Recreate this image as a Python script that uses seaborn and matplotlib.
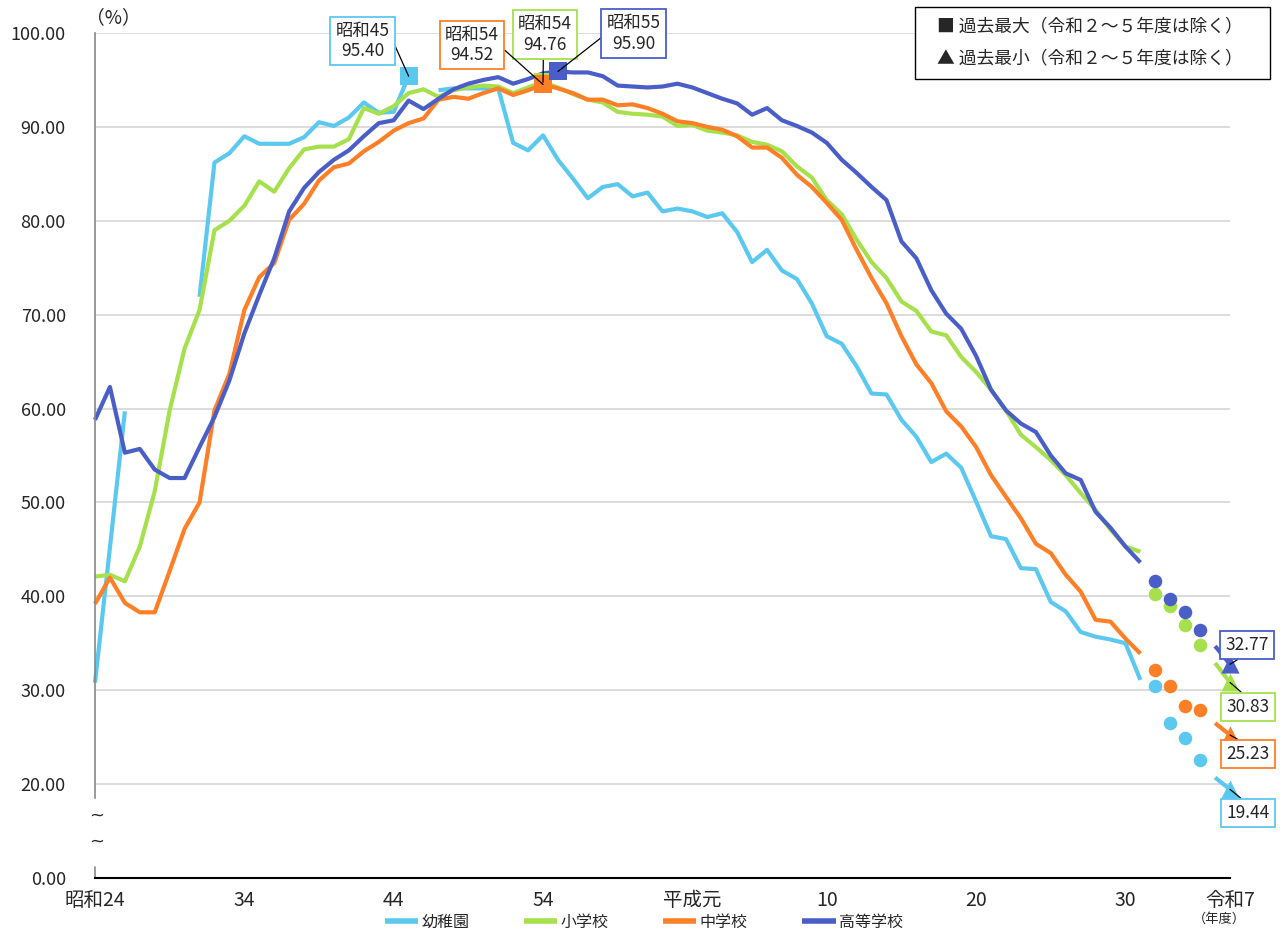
import matplotlib
matplotlib.use("Agg")
import matplotlib.pyplot as plt
import matplotlib.patches as mpatches
import numpy as np
import pandas as pd
import seaborn as sns

# ---------------- data ----------------
years = list(range(1949, 2020))
kinder = [30.8, 45.2, 59.7, None, None, None, None, 71.9, 86.2, 87.2, 89.0, 88.2, 88.2, 88.2, 88.9,
          90.5, 90.1, 91.0, 92.6, 91.5, 91.6, 95.40, None, 93.9, 94.1, 94.1, 94.1, 94.1, 88.3, 87.5,
          89.1, 86.5, 84.5, 82.4, 83.6, 83.9, 82.6, 83.0, 81.0, 81.3, 81.0, 80.4, 80.8, 78.8, 75.6,
          76.9, 74.7, 73.8, 71.2, 67.7, 66.9, 64.5, 61.6, 61.5, 58.8, 57.0, 54.3, 55.2, 53.7, 50.1,
          46.4, 46.1, 43.0, 42.9, 39.4, 38.4, 36.2, 35.7, 35.4, 35.0, 31.1]
elem = [42.1, 42.3, 41.6, 45.3, 51.2, 59.8, 66.4, 70.5, 79.0, 80.0, 81.6, 84.2, 83.1, 85.6, 87.6,
        87.9, 87.9, 88.7, 92.0, 91.4, 92.2, 93.6, 94.0, 93.2, 93.9, 94.2, 94.4, 94.3, 93.6, 94.2,
        94.76, 94.2, 93.5, 92.9, 92.6, 91.6, 91.4, 91.3, 91.1, 90.1, 90.2, 89.6, 89.4, 89.1, 88.4,
        88.1, 87.4, 85.8, 84.6, 82.2, 80.7, 78.0, 75.6, 73.9, 71.4, 70.4, 68.2, 67.8, 65.5, 63.9,
        62.0, 59.8, 57.2, 55.9, 54.5, 52.9, 51.0, 49.2, 47.1, 45.3, 44.75]
junior = [39.2, 42.0, 39.3, 38.3, 38.3, 42.7, 47.2, 50.0, 59.8, 63.7, 70.5, 74.0, 75.5, 80.1, 81.8,
          84.3, 85.7, 86.1, 87.4, 88.4, 89.6, 90.4, 90.9, 92.9, 93.2, 93.0, 93.6, 94.1, 93.4, 93.9,
          94.52, 94.1, 93.6, 92.9, 92.9, 92.3, 92.4, 92.0, 91.4, 90.6, 90.4, 90.0, 89.7, 89.0, 87.8,
          87.8, 86.7, 84.9, 83.6, 81.9, 80.1, 76.9, 73.9, 71.2, 67.7, 64.7, 62.7, 59.7, 58.1, 55.9,
          52.9, 50.6, 48.3, 45.6, 44.6, 42.3, 40.5, 37.5, 37.3, 35.5, 33.9]
high = [58.8, 62.3, 55.3, 55.7, 53.5, 52.6, 52.6, 55.9, 59.1, 63.0, 68.0, 72.1, 76.0, 81.0, 83.5,
        85.2, 86.5, 87.5, 89.0, 90.4, 90.7, 92.8, 91.9, 93.0, 94.0, 94.6, 95.0, 95.3, 94.6, 95.1,
        95.7, 95.90, 95.8, 95.8, 95.4, 94.4, 94.3, 94.2, 94.3, 94.6, 94.2, 93.6, 93.0, 92.5, 91.3,
        92.0, 90.7, 90.1, 89.4, 88.3, 86.5, 85.1, 83.6, 82.2, 77.8, 76.0, 72.6, 70.1, 68.5, 65.6,
        62.0, 59.8, 58.4, 57.5, 55.0, 53.1, 52.4, 49.0, 47.3, 45.3, 43.6]

years_covid = [2020, 2021, 2022, 2023]
kinder_covid = [30.4, 26.5, 24.9, 22.6]
elem_covid = [40.2, 39.0, 37.0, 34.8]
junior_covid = [32.2, 30.4, 28.3, 27.9]
high_covid = [41.6, 39.7, 38.3, 36.4]

years_recent = [2024, 2025]
kinder_recent = [20.7, 19.44]
elem_recent = [32.9, 30.83]
junior_recent = [26.5, 25.23]
high_recent = [34.7, 32.77]

names = ["幼稚園", "小学校", "中学校", "高等学校"]
max_years = [1970, 1979, 1979, 1980]
max_values = [95.40, 94.76, 94.52, 95.90]
max_labels = ["昭和45\n95.40", "昭和54\n94.76", "昭和54\n94.52", "昭和55\n95.90"]
min_labels = ["19.44", "30.83", "25.23", "32.77"]

tick_years = list(range(1949, 2026))
tick_label_map = {1949: "昭和24", 1959: "34", 1969: "44", 1979: "54", 1989: "平成元",
                  1998: "10", 2008: "20", 2018: "30", 2025: "令和7"}
ytick_vals = [10, 20, 30, 40, 50, 60, 70, 80, 90, 100]
ytick_labels = ["0.00", "20.00", "30.00", "40.00", "50.00", "60.00", "70.00", "80.00", "90.00", "100.00"]

colors = ["#5BC8F0", "#A6E04C", "#FF7F27", "#4A5EC8"]

# ---------------- style ----------------
sns.set_style("white")
plt.rcParams["font.family"] = ["Noto Sans CJK JP", "DejaVu Sans"]

W, H = 1285, 933
fig = plt.figure(figsize=(W / 100, H / 100), dpi=100)
ax = fig.add_axes([95 / W, 55 / H, 1135 / W, 845 / H])

main = {"幼稚園": kinder, "小学校": elem, "中学校": junior, "高等学校": high}
recent = {"幼稚園": kinder_recent, "小学校": elem_recent, "中学校": junior_recent, "高等学校": high_recent}
covid = {"幼稚園": kinder_covid, "小学校": elem_covid, "中学校": junior_covid, "高等学校": high_covid}
palette = dict(zip(names, colors))

rows = []
for name in names:
    seg = 0
    gap = True
    for y, v in zip(years, main[name]):
        if v is None:
            gap = True
            continue
        if gap:
            seg += 1
            gap = False
        rows.append(dict(year=y, rate=v, school=name, seg=f"{name}-{seg}"))
    for y, v in zip(years_recent, recent[name]):
        rows.append(dict(year=y, rate=v, school=name, seg=f"{name}-R"))
df = pd.DataFrame(rows)

sns.lineplot(data=df, x="year", y="rate", hue="school", hue_order=names, units="seg",
             estimator=None, palette=palette, linewidth=3.0, ax=ax,
             solid_joinstyle="round", solid_capstyle="butt")
for ln in ax.lines:
    ln.set_clip_on(False)

# covid-period dots
for name, c in zip(names, colors):
    sns.scatterplot(x=years_covid, y=covid[name], color=c, s=95, linewidth=0,
                    legend=False, ax=ax, zorder=4, clip_on=False)

# maxima squares
for i, (yr, v) in enumerate(zip(max_years, max_values)):
    sns.scatterplot(x=[yr], y=[v], color=colors[i], marker="s", s=150, linewidth=0,
                    legend=False, ax=ax, zorder=5, clip_on=False)

# minima triangles
for i, name in enumerate(names):
    sns.scatterplot(x=[years_recent[-1]], y=[recent[name][-1]], color=colors[i], marker="^",
                    s=170, linewidth=0, legend=False, ax=ax, zorder=5, clip_on=False)

# ---------------- axes ----------------
ax.set_xlim(1949, 2025)
ax.set_ylim(10, 100)
ax.set_xlabel("")
ax.set_ylabel("")
ax.set_xticks(tick_years)
ax.set_xticklabels([tick_label_map.get(y, "") for y in tick_years])
ax.set_yticks(ytick_vals)
ax.set_yticklabels(ytick_labels)
ax.tick_params(axis="x", direction="in", length=5, width=1, color="black", pad=9, labelsize=14)
ax.tick_params(axis="y", direction="in", length=5, width=1, color="#888888", pad=21, labelsize=13)
ax.yaxis.grid(True, color="#D9D9D9", linewidth=1.3)
ax.xaxis.grid(False)
ax.set_axisbelow(True)
for s in ["top", "right"]:
    ax.spines[s].set_visible(False)
ax.spines["bottom"].set_color("black")
ax.spines["bottom"].set_linewidth(1.5)
ax.spines["left"].set_color("#888888")
ax.spines["left"].set_linewidth(1.2)
ax.spines["left"].set_bounds(18.5, 100)
ax.axvline(1949, ymin=0, ymax=1.2 / 90, color="#888888", lw=1.2, clip_on=False)

# axis break marks
fig.text(97 / W, 1 - 816 / H, "~", ha="center", va="center", fontsize=13, family="DejaVu Sans")
fig.text(97 / W, 1 - 842 / H, "~", ha="center", va="center", fontsize=13, family="DejaVu Sans")

# unit labels
fig.text(113 / W, 1 - 18 / H, "（%）", ha="center", va="center", fontsize=13.5)
fig.text(1219 / W, 1 - 919 / H, "（年度）", ha="center", va="center", fontsize=9.5)

# ---------------- annotations ----------------
def px2data(px, py):
    return 1949 + (px - 95) / (1135 / 76), 100 - (py - 33) / (845 / 90)

max_boxes = [(362.5, 41), (545, 34.5), (472, 45), (633.5, 33.5)]
max_rel = [(1, 0.7), (0.47, 0), (1, 0.5), (0, 0.5)]
for i in range(4):
    tx, ty = px2data(*max_boxes[i])
    ax.annotate(max_labels[i], xy=(max_years[i], max_values[i]), xytext=(tx, ty),
                textcoords="data", ha="center", va="center", fontsize=12.5, linespacing=1.15,
                bbox=dict(boxstyle="square,pad=0.3", fc="white", ec=colors[i], lw=1.3),
                arrowprops=dict(arrowstyle="-", color="black", lw=0.9, relpos=max_rel[i],
                                shrinkA=0, shrinkB=0),
                annotation_clip=False, zorder=6)

min_boxes = [(1248, 813), (1248, 707), (1248, 754), (1247, 645)]
min_rel = [(0.5, 1), (0.5, 1), (0.5, 1), (0.5, 0)]
for i, name in enumerate(names):
    tx, ty = px2data(*min_boxes[i])
    ax.annotate(min_labels[i], xy=(years_recent[-1], recent[name][-1]), xytext=(tx, ty),
                textcoords="data", ha="center", va="center", fontsize=12.5,
                bbox=dict(boxstyle="square,pad=0.3", fc="white", ec=colors[i], lw=1.3),
                arrowprops=dict(arrowstyle="-", color="black", lw=0.9, relpos=min_rel[i],
                                shrinkA=0, shrinkB=0),
                annotation_clip=False, zorder=6)

# ---------------- legends ----------------
rect = mpatches.Rectangle((915 / W, 1 - 79 / H), 355 / W, 72 / H, transform=fig.transFigure,
                          facecolor="white", edgecolor="black", linewidth=1.0, zorder=2)
fig.add_artist(rect)
fig.text(937 / W, 1 - 26 / H, "■ 過去最大（令和２～５年度は除く）", ha="left", va="center",
         fontsize=12.8, zorder=3)
fig.text(937 / W, 1 - 58 / H, "▲ 過去最小（令和２～５年度は除く）", ha="left", va="center",
         fontsize=12.8, zorder=3)

sns.move_legend(ax, "center", bbox_to_anchor=(0.501, 1 - 922 / H), bbox_transform=fig.transFigure,
                ncol=4, frameon=False, title=None, fontsize=11.5, handlelength=2.1,
                handletextpad=0.2, columnspacing=3.4, borderpad=0.0)
leg = ax.get_legend()
for ln in leg.get_lines():
    ln.set_linewidth(4)

fig.savefig("out.png", dpi=100)
